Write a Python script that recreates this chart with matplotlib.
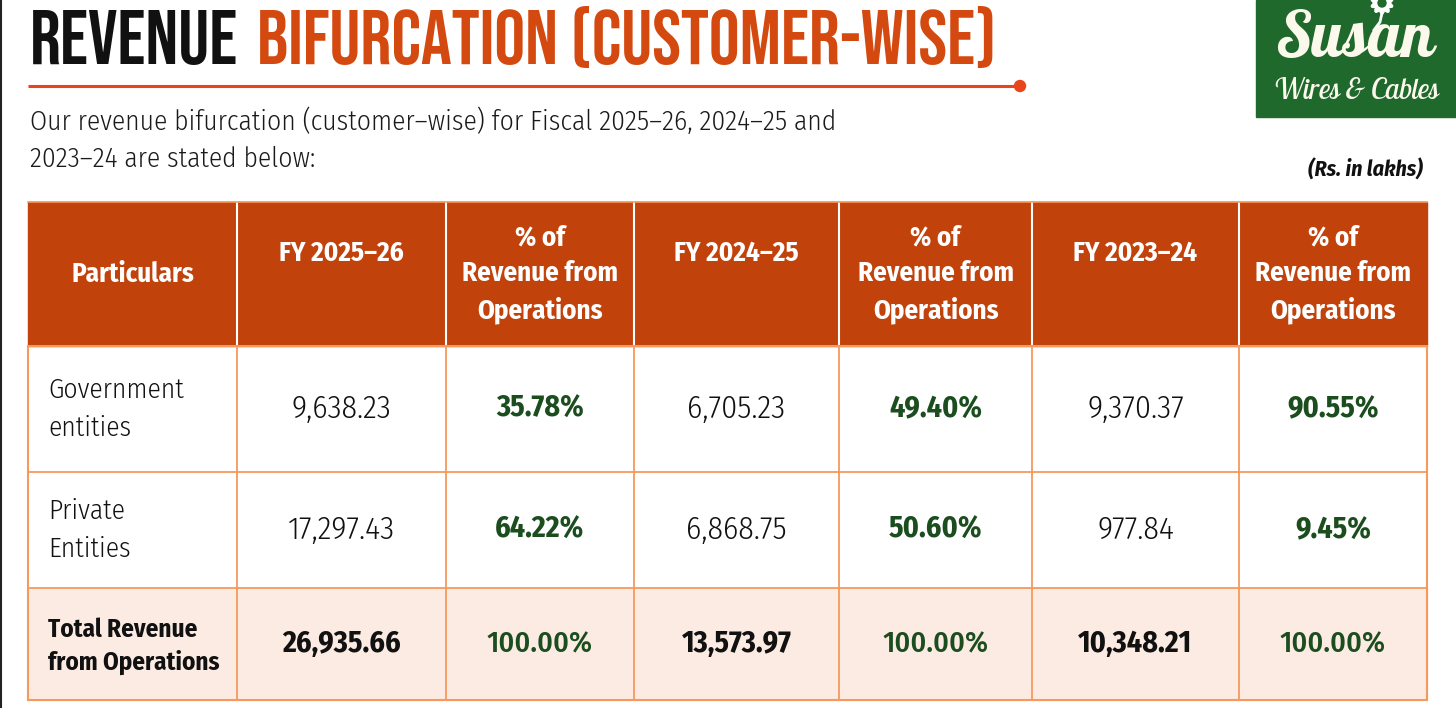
import matplotlib.pyplot as plt
from matplotlib.patches import Rectangle, Ellipse, Circle

# Table data
particulars = ["Government\nentities", "Private\nEntities", "Total Revenue\nfrom Operations"]
years = ["FY 2025\u201326", "FY 2024\u201325", "FY 2023\u201324"]
amounts_2526 = ["9,638.23", "17,297.43", "26,935.66"]
share_2526 = ["35.78%", "64.22%", "100.00%"]
amounts_2425 = ["6,705.23", "6,868.75", "13,573.97"]
share_2425 = ["49.40%", "50.60%", "100.00%"]
amounts_2324 = ["9,370.37", "977.84", "10,348.21"]
share_2324 = ["90.55%", "9.45%", "100.00%"]
pct_header = "% of\nRevenue from\nOperations"

COND = ["Fira Sans Condensed", "DejaVu Sans"]
TITLE = ["Bebas Neue", "Oswald", "DejaVu Sans"]
SCRIPT = ["Lobster Two", "Dancing Script", "DejaVu Serif"]
ORANGE = "#C1420B"
LINE_OR = "#F59A5C"
GREEN = "#1B4D1E"

W, H = 1456, 708
fig = plt.figure(figsize=(W / 100, H / 100), dpi=100)
ax = fig.add_axes([0, 0, 1, 1])
ax.set_xlim(0, W)
ax.set_ylim(H, 0)
ax.axis("off")


def px(p):
    return p * 0.72


# left frame edge
ax.plot([1, 1], [0, H], color="#222222", lw=1.5)

# title, sized to fit the rule below it
fig.canvas.draw()
rend = fig.canvas.get_renderer()
t1 = ax.text(30, 64, "REVENUE", fontsize=px(90), family=TITLE, color="#111111",
             va="baseline", ha="left")
w1 = t1.get_window_extent(rend).width
t2 = ax.text(30 + w1 + 22, 64, "BIFURCATION (CUSTOMER-WISE)", fontsize=px(90), family=TITLE,
             color="#D4490F", va="baseline", ha="left")
w2 = t2.get_window_extent(rend).width
scale = 968 / (w1 + 22 + w2)
if scale < 1:
    t1.set_fontsize(px(90 * scale))
    t2.set_fontsize(px(90 * scale))
    t2.set_x(30 + w1 * scale + 22 * scale)

# orange rule with dot
ax.plot([28, 1020], [86, 86], color="#E8461A", lw=2.2, solid_capstyle="butt")
ax.add_patch(Circle((1020, 86), 5.5, color="#E8461A", zorder=3))

# subtitle
ax.text(30, 122, "Our revenue bifurcation (customer\u2013wise) for Fiscal 2025\u201326, 2024\u201325 and",
        fontsize=px(27.5), family=COND, fontweight=300, color="#1a1a1a", va="center")
ax.text(30, 159, "2023\u201324 are stated below:", fontsize=px(27.5), family=COND, fontweight=300,
        color="#1a1a1a", va="center")
ax.text(1423, 170, "(Rs. in lakhs)", fontsize=px(22), family=COND, fontweight="bold",
        fontstyle="italic", color="#111111", ha="right", va="center")

# logo
ax.add_patch(Rectangle((1256, 0), 200, 117, color="#20692C", zorder=2))
for ang in range(0, 360, 36):
    ax.add_patch(Ellipse((1382, 3), 6, 22, angle=ang, color="white", zorder=3))
ax.add_patch(Circle((1382, 3), 4, color="#20692C", zorder=4))
ax.plot([1382, 1380, 1374], [13, 22, 30], color="white", lw=2, zorder=3)
ax.text(1355, 42, "Susan", fontsize=px(64), family=SCRIPT, fontweight="bold", fontstyle="italic",
        color="#FBF8EC", ha="center", va="center", zorder=4)
ax.text(1356, 92, "Wires & Cables", fontsize=px(29), family=SCRIPT, fontstyle="italic",
        color="#FBF8EC", ha="center", va="center", zorder=4)

# table geometry
xs = [28, 237, 446, 634, 839, 1032, 1239, 1427]
ys = [202, 346, 472, 588, 700]

# header
ax.add_patch(Rectangle((xs[0], ys[0]), xs[-1] - xs[0], ys[1] - ys[0], color=ORANGE, zorder=1))
# total row fill
ax.add_patch(Rectangle((xs[0], ys[3]), xs[-1] - xs[0], ys[4] - ys[3], color="#FCEBE2", zorder=1))

# grid lines
for x in xs[1:-1]:
    ax.plot([x, x], [ys[0], ys[1]], color="white", lw=1.5, zorder=2)
    ax.plot([x, x], [ys[1], ys[4]], color=LINE_OR, lw=1.3, zorder=2)
for y in ys[2:-1]:
    ax.plot([xs[0], xs[-1]], [y, y], color=LINE_OR, lw=1.3, zorder=2)
ax.add_patch(Rectangle((xs[0], ys[1]), xs[-1] - xs[0], ys[4] - ys[1], fill=False,
                       ec=LINE_OR, lw=1.5, zorder=2))
ax.plot([xs[0], xs[-1]], [ys[0], ys[0]], color=LINE_OR, lw=1.2, zorder=2)

# header text
header = ["Particulars", years[0], pct_header, years[1], pct_header, years[2], pct_header]
for i, h in enumerate(header):
    cx = (xs[i] + xs[i + 1]) / 2
    cy = 274 if "%" in h or i == 0 else 253
    ax.text(cx, cy, h, fontsize=px(27), fontweight="bold", family=COND, color="white",
            ha="center", va="center", linespacing=1.45, zorder=3)

# body
cols = [amounts_2526, share_2526, amounts_2425, share_2425, amounts_2324, share_2324]
for r_i in range(3):
    cy = (ys[r_i + 1] + ys[r_i + 2]) / 2
    total = r_i == 2
    ax.text(48, cy + (2 if total else 0), particulars[r_i], fontsize=px(25 if total else 27.5),
            fontweight="bold" if total else 300, family=COND, color="#111111",
            ha="left", va="center", linespacing=1.38 if total else 1.52, zorder=3)
    for c_i, col in enumerate(cols):
        cx = (xs[c_i + 1] + xs[c_i + 2]) / 2
        if c_i % 2 == 1:
            ax.text(cx, cy, col[r_i], fontsize=px(30), fontweight=500 if total else "bold",
                    family=COND, color=GREEN, ha="center", va="center", zorder=3)
        else:
            ax.text(cx, cy, col[r_i], fontsize=px(30 if total else 32),
                    fontweight="bold" if total else 300,
                    family=COND, color="#111111", ha="center", va="center", zorder=3)

fig.savefig("out.png", dpi=100, facecolor="white")
